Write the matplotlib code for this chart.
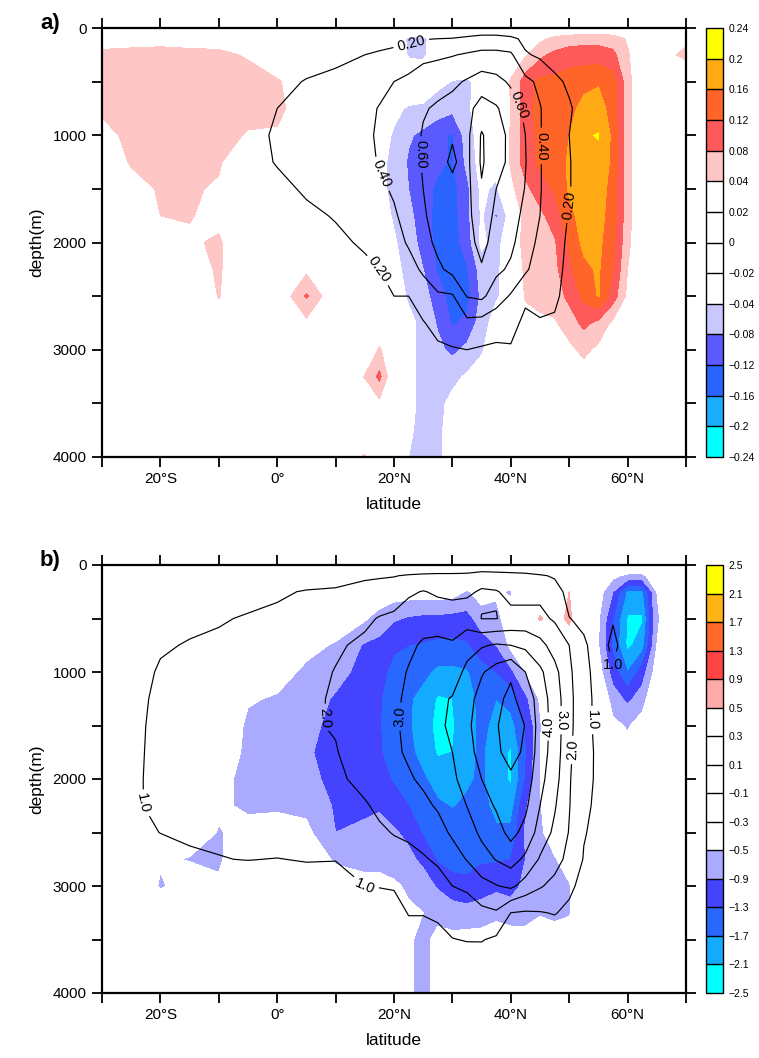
import numpy as np
import matplotlib.pyplot as plt

plt.rcParams['font.family'] = ['Liberation Sans', 'DejaVu Sans']

lat = [-30, -25, -20, -15, -10, -5, 0, 5, 10, 15, 17.5, 20, 22.5, 25, 27.5, 30,
       32.5, 35, 37.5, 40, 42.5, 45, 47.5, 50, 52.5, 55, 57.5, 60, 62.5, 65, 70]
depth = [0, 100, 250, 500, 750, 1000, 1250, 1500, 1750, 2000, 2250, 2500, 2750,
         3000, 3250, 3500, 3750, 4000]

# a) shaded anomaly, one row per depth
diff_a = [
    [0] * 31,
    [.02, .02, .025, .025, .02, .01, 0, 0, 0, 0, 0, 0, -.05, -.055, 0, 0, 0, 0, 0, 0, 0, .03, .05, .06, .065, .065, .06, .035, 0, .02, .03],
    [.05, .055, .055, .05, .05, .035, 0, 0, 0, 0, 0, 0, -.045, -.05, 0, 0, 0, 0, 0, 0, .035, .07, .09, .1, .1, .1, .09, .045, 0, .02, .05],
    [.06, .065, .065, .065, .06, .06, .045, .01, 0, 0, 0, 0, 0, 0, -.03, -.042, -.045, -.03, 0, .045, .1, .13, .13, .14, .15, .155, .14, .055, 0, .03, 0],
    [.05, .065, .065, .065, .065, .06, .05, .015, 0, 0, 0, -.03, -.045, -.05, -.06, -.07, -.05, -.01, -.02, .04, .1, .14, .14, .15, .17, .18, .14, .055, 0, 0, 0],
    [.02, .055, .06, .06, .06, .035, .035, 0, 0, 0, -.02, -.045, -.075, -.09, -.11, -.125, -.06, -.02, -.02, .045, .1, .13, .14, .16, .196, .202, .15, .055, 0, 0, 0],
    [0, .045, .055, .055, .045, 0, 0, 0, 0, 0, -.03, -.05, -.085, -.095, -.11, -.125, -.07, -.02, -.02, .045, .1, .13, .14, .165, .19, .19, .15, .055, 0, 0, 0],
    [0, .02, .045, .045, .035, 0, 0, 0, 0, 0, -.03, -.05, -.08, -.1, -.13, -.135, -.09, -.03, -.05, .03, .07, .1, .125, .165, .185, .185, .14, .055, 0, 0, 0],
    [0, 0, .04, .042, .03, 0, 0, 0, 0, 0, -.02, -.045, -.07, -.1, -.135, -.14, -.09, -.035, -.085, -.02, .06, .07, .1, .15, .175, .175, .14, .055, 0, 0, 0],
    [0, 0, .02, .035, .045, 0, 0, 0, 0, 0, -.01, -.035, -.06, -.095, -.135, -.14, -.1, -.03, -.06, 0, .06, .065, .075, .13, .17, .17, .13, .05, 0, 0, 0],
    [0, 0, 0, .02, .045, 0, 0, .03, 0, 0, 0, -.03, -.05, -.08, -.125, -.14, -.125, -.06, -.05, -.01, .05, .06, .07, .11, .15, .165, .12, .04, 0, 0, 0],
    [0, 0, 0, 0, .042, 0, 0, .085, 0, 0, 0, -.02, -.045, -.065, -.1, -.14, -.135, -.07, -.045, -.02, .045, .055, .06, .09, .13, .163, .1, .03, 0, 0, 0],
    [0, 0, 0, 0, .02, 0, 0, .03, 0, 0, 0, 0, -.03, -.05, -.085, -.125, -.11, -.06, -.02, 0, .02, .03, .035, .06, .09, .07, .03, 0, 0, 0, 0],
    [0, 0, 0, 0, 0, 0, 0, 0, 0, 0, .045, 0, -.03, -.05, -.07, -.09, -.07, -.045, -.01, 0, 0, 0, 0, .03, .05, .03, 0, 0, 0, 0, 0],
    [0, 0, 0, 0, 0, 0, 0, 0, 0, .042, .09, 0, -.03, -.05, -.055, -.05, -.035, -.02, 0, 0, 0, 0, 0, 0, .02, 0, 0, 0, 0, 0, 0],
    [0, 0, 0, 0, 0, 0, 0, 0, 0, 0, .03, 0, -.03, -.05, -.05, -.03, 0, 0, 0, 0, 0, 0, 0, 0, 0, 0, 0, 0, 0, 0, 0],
    [0, 0, 0, 0, 0, 0, 0, 0, 0, 0, 0, 0, -.035, -.05, -.05, -.02, 0, 0, 0, 0, 0, 0, 0, 0, 0, 0, 0, 0, 0, 0, 0],
    [0, 0, 0, 0, 0, 0, 0, 0, 0, .045, 0, 0, -.04, -.05, -.05, -.02, 0, 0, 0, 0, 0, 0, 0, 0, 0, 0, 0, 0, 0, 0, 0],
]

# a) overturning contours, one profile (0..4000 m) per latitude
moc_a_cols = [
    [0, .01, .01, .02, .03, .03, .03, .03, .02, .02, .01, .01, 0, 0, 0, 0, 0, 0],
    [0, .01, .01, .03, .04, .05, .05, .04, .03, .02, .01, .01, 0, 0, 0, 0, 0, 0],
    [0, .01, .02, .04, .05, .06, .06, .05, .04, .03, .02, .01, 0, 0, 0, 0, 0, 0],
    [0, .01, .02, .05, .06, .07, .07, .06, .05, .03, .02, .01, 0, 0, 0, 0, 0, 0],
    [0, .01, .03, .06, .08, .09, .09, .07, .05, .03, .02, .01, 0, 0, 0, 0, 0, 0],
    [0, .02, .05, .1, .13, .15, .14, .11, .08, .05, .03, .02, .01, 0, 0, 0, 0, 0],
    [0, .03, .08, .15, .2, .22, .21, .16, .12, .08, .05, .03, .02, .01, 0, 0, 0, 0],
    [0, .05, .12, .21, .24, .26, .25, .22, .17, .12, .08, .05, .03, .02, .01, 0, 0, 0],
    [0, .07, .16, .24, .28, .3, .3, .27, .21, .17, .12, .07, .04, .02, .01, 0, 0, 0],
    [0, .1, .2, .3, .35, .37, .36, .32, .27, .22, .17, .1, .06, .03, .01, 0, 0, 0],
    [0, .11, .23, .34, .41, .42, .41, .37, .32, .27, .2, .13, .08, .04, .02, 0, 0, 0],
    [0, .13, .26, .4, .43, .44, .44, .42, .38, .33, .28, .2, .12, .06, .03, .01, 0, 0],
    [0, .15, .3, .44, .47, .49, .5, .48, .46, .42, .33, .2, .14, .08, .04, .02, 0, 0],
    [0, .19, .36, .48, .58, .62, .62, .6, .57, .52, .43, .3, .19, .1, .05, .02, 0, 0],
    [0, .2, .37, .52, .63, .72, .76, .73, .7, .65, .56, .37, .26, .17, .08, .03, .01, 0],
    [0, .21, .39, .56, .67, .79, .82, .77, .74, .7, .66, .38, .28, .19, .1, .04, .01, 0],
    [0, .25, .42, .62, .74, .75, .75, .74, .74, .73, .7, .61, .35, .2, .1, .05, .02, 0],
    [0, .3, .44, .7, .88, 1.02, 1.03, .98, .93, .86, .78, .64, .33, .18, .1, .05, .02, 0],
    [0, .3, .44, .66, .82, .87, .85, .8, .75, .72, .64, .5, .28, .17, .09, .04, .01, 0],
    [0, .25, .43, .57, .7, .76, .77, .74, .68, .64, .57, .38, .27, .18, .1, .04, .01, 0],
    [0, .15, .22, .45, .56, .6, .61, .59, .55, .5, .43, .24, .15, .1, .05, .02, 0, 0],
    [0, .1, .17, .36, .41, .41, .41, .41, .4, .35, .3, .24, .19, .1, .05, .02, 0, 0],
    [0, .06, .12, .24, .29, .3, .3, .3, .28, .27, .25, .23, .18, .1, .05, .02, 0, 0],
    [0, .03, .07, .17, .22, .2, .21, .21, .19, .17, .16, .14, .1, .06, .03, .01, 0, 0],
    [0, .02, .04, .1, .13, .12, .12, .12, .11, .1, .09, .08, .06, .04, .02, .01, 0, 0],
    [0, .01, .02, .05, .06, .06, .06, .06, .05, .05, .05, .04, .03, .02, .01, 0, 0, 0],
    [0, .01, .01, .02, .02, .02, .02, .02, .02, .02, .02, .01, .01, 0, 0, 0, 0, 0],
    [0, 0, .01, .01, .01, .01, .01, .01, .01, .01, .01, 0, 0, 0, 0, 0, 0, 0],
    [0] * 18,
    [0] * 18,
    [0] * 18,
]

# b) shaded anomaly, one row per depth
diff_b = [
    [0] * 31,
    [0, 0, 0, 0, 0, 0, 0, 0, 0, 0, 0, 0, 0, 0, 0, 0, -.1, 0, -.1, -.1, 0, 0, 0, .1, 0, 0, -.4, -.6, -.6, -.2, 0],
    [0, 0, 0, 0, 0, 0, 0, 0, 0, -.05, -.15, -.28, -.3, -.3, -.3, -.32, -.55, -.3, -.45, -.55, 0, .1, .2, .5, 0, -.3, -.9, -1.8, -1.8, -.5, 0],
    [0, 0, 0, 0, 0, 0, 0, 0, -.2, -.45, -.7, -.85, -.95, -1, -1, -1.05, -1.05, -.7, -.6, -.3, 0, .55, .3, .6, 0, -.45, -1.3, -2.15, -2.15, -.55, 0],
    [0, 0, 0, 0, 0, 0, 0, -.35, -.55, -.95, -1, -1.25, -1.3, -1.35, -1.4, -1.4, -1.35, -1.1, -.9, -.4, -.1, 0, .1, .2, 0, -.48, -1.4, -2.2, -1.9, -.5, 0],
    [0, 0, 0, 0, 0, 0, -.3, -.6, -.75, -1.05, -1.2, -1.4, -1.5, -1.6, -1.8, -1.8, -1.75, -1.45, -1.3, -1, -.5, -.2, 0, 0, 0, -.3, -1.1, -1.7, -1.1, -.3, 0],
    [0, 0, 0, 0, 0, -.45, -.55, -.7, -.95, -1.15, -1.27, -1.5, -1.65, -1.85, -2.15, -2.1, -1.85, -1.6, -1.7, -1.55, -1, -.45, 0, 0, 0, 0, -.7, -1, -.7, 0, 0],
    [0, 0, 0, 0, 0, -.6, -.65, -.75, -1.05, -1.2, -1.28, -1.5, -1.65, -1.95, -2.2, -2.15, -1.85, -1.62, -1.8, -1.85, -1.3, -.55, 0, 0, 0, 0, -.4, -.55, -.3, 0, 0],
    [0, 0, 0, 0, -.2, -.6, -.7, -.85, -1.05, -1.2, -1.27, -1.45, -1.6, -1.85, -2.15, -2.1, -1.8, -1.65, -1.95, -2.15, -1.35, -.5, 0, 0, 0, 0, -.2, -.3, 0, 0, 0],
    [0, 0, 0, 0, -.4, -.6, -.65, -.8, -1, -1.1, -1.15, -1.35, -1.45, -1.65, -1.85, -1.9, -1.75, -1.65, -1.95, -2.15, -1.3, -.5, 0, 0, 0, 0, 0, 0, 0, 0, 0],
    [0, 0, 0, 0, -.45, -.55, -.55, -.6, -.95, -.95, -.95, -1.1, -1.3, -1.5, -1.65, -1.72, -1.65, -1.6, -1.8, -1.9, -.95, -.55, 0, 0, 0, 0, 0, 0, 0, 0, 0],
    [0, 0, 0, -.3, -.52, -.4, -.35, -.4, -.9, -.85, -.75, -.85, -1, -1.35, -1.5, -1.55, -1.55, -1.5, -1.65, -1.6, -.85, -.6, -.2, 0, 0, 0, 0, 0, 0, 0, 0],
    [0, 0, -.45, -.52, -.55, -.2, -.2, -.25, -.55, -.6, -.6, -.65, -.8, -1, -1.35, -1.45, -1.45, -1.35, -1.35, -1.3, -.9, -.7, -.55, -.2, 0, 0, 0, 0, 0, 0, 0],
    [0, 0, -.55, -.3, -.45, 0, 0, 0, -.3, -.4, -.4, -.45, -.55, -.7, -.95, -1.15, -1.2, -1.1, -1, -1.05, -.8, -.7, -.65, -.55, 0, 0, 0, 0, 0, 0, 0],
    [0, 0, -.1, 0, -.1, 0, 0, 0, 0, 0, 0, 0, -.45, -.5, -.6, -.7, -.75, -.7, -.6, -.7, -.6, -.55, -.6, -.55, 0, 0, 0, 0, 0, 0, 0],
    [0, 0, 0, 0, 0, 0, 0, 0, 0, 0, 0, 0, -.45, -.6, -.4, -.4, -.35, -.35, -.3, -.3, -.4, -.2, -.3, -.2, 0, 0, 0, 0, 0, 0, 0],
    [0, 0, 0, 0, 0, 0, 0, 0, 0, 0, 0, 0, -.45, -.6, -.4, -.2, -.1, -.1, 0, 0, 0, 0, 0, 0, 0, 0, 0, 0, 0, 0, 0],
    [0, 0, 0, 0, 0, 0, 0, 0, 0, 0, 0, 0, -.45, -.6, -.4, -.1, 0, 0, 0, 0, 0, 0, 0, 0, 0, 0, 0, 0, 0, 0, 0],
]

# b) overturning contours, one profile (0..4000 m) per latitude
moc_b_cols = [
    [0, .2, .3, .4, .5, .5, .6, .6, .6, .6, .5, .4, .3, .2, .1, .05, 0, 0],
    [0, .3, .5, .65, .75, .8, .85, .88, .9, .93, .95, .8, .5, .3, .15, .05, 0, 0],
    [0, .35, .6, .8, .95, 1.05, 1.1, 1.12, 1.12, 1.1, 1.07, 1.01, .7, .4, .2, .08, .02, 0],
    [0, .4, .7, .9, 1.03, 1.15, 1.2, 1.25, 1.25, 1.22, 1.15, 1.05, .95, .5, .25, .1, .03, 0],
    [0, .4, .75, .95, 1.1, 1.25, 1.3, 1.35, 1.35, 1.3, 1.22, 1.1, .98, .5, .3, .1, .03, 0],
    [0, .45, .8, 1.05, 1.25, 1.4, 1.5, 1.55, 1.55, 1.5, 1.4, 1.25, 1.02, .55, .3, .1, .03, 0],
    [0, .5, .9, 1.15, 1.35, 1.55, 1.7, 1.75, 1.75, 1.7, 1.6, 1.4, .98, .6, .3, .1, .03, 0],
    [0, .6, 1.05, 1.3, 1.55, 1.75, 1.85, 1.9, 1.9, 1.85, 1.75, 1.5, 1.05, .6, .3, .1, .03, 0],
    [0, .7, 1.1, 1.6, 1.9, 2.03, 2.08, 2.06, 1.95, 1.8, 1.6, 1.3, 1.03, .6, .3, .1, .03, 0],
    [0, .85, 1.35, 1.85, 2.15, 2.4, 2.55, 2.6, 2.5, 2.3, 1.9, 1.6, 1.3, 1.0, .6, .3, .1, 0],
    [0, .9, 1.45, 2.05, 2.4, 2.65, 2.8, 2.85, 2.75, 2.5, 2.2, 1.85, 1.45, 1.03, .6, .3, .1, 0],
    [0, .95, 1.6, 2.15, 2.5, 2.75, 2.85, 2.88, 2.85, 2.7, 2.4, 2.05, 1.6, 1.08, .6, .3, .1, 0],
    [0, 1.1, 1.85, 2.5, 2.85, 3.05, 3.15, 3.2, 3.12, 2.9, 2.6, 2.15, 1.75, 1.35, 1.05, .6, .25, 0],
    [0, 1.2, 2.05, 2.7, 3.1, 3.35, 3.5, 3.55, 3.4, 3.15, 2.8, 2.4, 1.9, 1.5, 1.05, .6, .25, 0],
    [0, 1.25, 1.85, 2.6, 3.2, 3.6, 3.85, 3.9, 3.75, 3.45, 3.1, 2.65, 2.15, 1.6, 1.15, .75, .3, 0],
    [0, 1.25, 1.75, 2.55, 3.1, 3.6, 4.05, 4.1, 4.0, 3.8, 3.45, 3.15, 2.55, 2.0, 1.5, .97, .4, 0],
    [0, 1.3, 1.85, 2.5, 3.7, 4.2, 4.6, 4.8, 4.7, 4.45, 4.02, 3.55, 3.05, 2.15, 1.55, 1.05, .45, 0],
    [0, 1.6, 2.1, 1.98, 3.9, 4.9, 5.4, 5.5, 5.3, 5.0, 4.6, 4.2, 3.6, 2.7, 1.75, 1.05, .5, 0],
    [0, 1.5, 2.05, 1.98, 4.1, 5.4, 5.85, 5.95, 5.9, 5.6, 5.1, 4.6, 4.05, 2.95, 1.9, .85, .4, 0],
    [0, 1.4, 1.8, 2.2, 4.0, 5.9, 6.15, 6.3, 6.2, 5.9, 5.5, 5.3, 4.4, 3.2, 1.0, .5, .2, 0],
    [0, 1.3, 1.7, 2.3, 3.8, 5.0, 5.7, 5.98, 5.9, 5.6, 5.2, 4.7, 3.8, 2.6, .9, .4, .15, 0],
    [0, 1.1, 1.8, 2.2, 3.3, 4.2, 4.5, 4.6, 4.5, 4.3, 4.0, 3.6, 2.9, 2.1, .95, .4, .1, 0],
    [0, .9, 1.4, 1.9, 2.6, 3.3, 3.55, 3.6, 3.55, 3.4, 3.1, 2.8, 2.4, 1.7, 1.05, .45, .1, 0],
    [0, .6, .7, 1.02, 2.0, 2.2, 2.3, 2.3, 2.2, 2.1, 2.05, 1.95, 1.7, 1.2, .8, .35, .1, 0],
    [0, .4, .6, .85, 1.1, 1.2, 1.25, 1.2, 1.2, 1.15, 1.1, 1.05, .95, .7, .4, .2, .05, 0],
    [0, .25, .4, .6, .7, .75, .8, .85, .9, .92, .9, .8, .6, .4, .2, .1, .03, 0],
    [0, .3, .6, .95, 1.15, .95, .8, .6, .5, .4, .3, .2, .1, .05, .02, 0, 0, 0],
    [0, .2, .4, .6, .7, .6, .5, .4, .3, .2, .15, .1, .05, 0, 0, 0, 0, 0],
    [0, .1, .2, .3, .3, .3, .25, .2, .15, .1, .05, 0, 0, 0, 0, 0, 0, 0],
    [0, .05, .1, .15, .15, .15, .1, .1, .05, 0, 0, 0, 0, 0, 0, 0, 0, 0],
    [0] * 18,
]

levels_a = [-0.24, -0.2, -0.16, -0.12, -0.08, -0.04, -0.02, 0, 0.02, 0.04, 0.08, 0.12, 0.16, 0.2, 0.24]
colors_a = ['#00ffff', '#1aaeff', '#2a64ff', '#5a5aff', '#c8c8ff', 'white', 'white', 'white', 'white',
            '#ffc6c6', '#ff5a5a', '#ff6428', '#ffaa14', '#ffff00']
lines_a = [0.2, 0.4, 0.6, 0.8, 1.0]

levels_b = [-2.5, -2.1, -1.7, -1.3, -0.9, -0.5, -0.3, -0.1, 0.1, 0.3, 0.5, 0.9, 1.3, 1.7, 2.1, 2.5]
colors_b = ['#00ffff', '#14aaff', '#2868ff', '#4444ff', '#aaaaff', 'white', 'white', 'white', 'white', 'white',
            '#ffaaaa', '#ff4444', '#ff6a28', '#ffb414', '#ffff00']
lines_b = [1, 2, 3, 4, 5, 6]

lat_ticks = [-30, -20, -10, 0, 10, 20, 30, 40, 50, 60, 70]
lat_labels = ['', '20°S', '', '0°', '', '20°N', '', '40°N', '', '60°N', '']
depth_ticks = [0, 500, 1000, 1500, 2000, 2500, 3000, 3500, 4000]
depth_labels = ['0', '', '1000', '', '2000', '', '3000', '', '4000']

# where the contour labels sit (lat, depth)
label_spots_a = [(23, 150), (17.5, 2250), (50.1, 1650), (17.5, 1370), (45, 1100), (24.8, 1180), (41, 730)]
label_spots_b = [(-22.6, 2230), (13.9, 3100), (53.3, 1450), (57.6, 950), (9, 1430), (51, 1730),
                 (21.6, 1420), (48.7, 1450), (46.7, 1510)]

W, H = 759, 1058
fig = plt.figure(figsize=(W / 100, H / 100), dpi=100)


def box(x0, y0, x1, y1):
    return [x0 / W, 1 - y1 / H, (x1 - x0) / W, (y1 - y0) / H]


def panel(ax, cax, shade, lines, levels, colors, line_levels, fmt, spots, tag):
    X, Y = np.meshgrid(lat, depth)
    cf = ax.contourf(X, Y, np.array(shade), levels=levels, colors=colors)
    cs = ax.contour(X, Y, np.array(lines).T, levels=line_levels, colors='black', linewidths=0.85)
    ax.set_xlim(-30, 70)
    ax.set_ylim(4000, 0)
    ax.clabel(cs, manual=spots, inline=True, inline_spacing=4, fmt=fmt, fontsize=10.5)

    ax.set_xticks(lat_ticks)
    ax.set_xticklabels(lat_labels)
    ax.set_yticks(depth_ticks)
    ax.set_yticklabels(depth_labels)
    ax.tick_params(direction='out', length=7, width=1.3, top=True, right=True,
                   labelsize=11, pad=4)
    for s in ax.spines.values():
        s.set_linewidth(1.6)
    ax.set_xlabel('latitude', fontsize=12.5, labelpad=8)
    ax.set_ylabel('depth(m)', fontsize=12.5, labelpad=6)

    cb = fig.colorbar(cf, cax=cax, ticks=levels, drawedges=True)
    cb.ax.set_yticklabels([f'{v:g}'.replace('-', '\u2212') for v in levels])
    cb.ax.tick_params(length=0, labelsize=7.5, pad=4)
    cb.outline.set_linewidth(1.0)
    cb.dividers.set_linewidth(1.0)

    pos = ax.get_position()
    fig.text(40 / W, pos.y1 + 0.004, tag, fontsize=16, fontweight='bold', va='center', ha='left')


ax_a = fig.add_axes(box(102, 28, 686, 457))
cax_a = fig.add_axes(box(706, 28, 723, 457))
panel(ax_a, cax_a, diff_a, moc_a_cols, levels_a, colors_a, lines_a, '%.2f', label_spots_a, 'a)')

ax_b = fig.add_axes(box(102, 565, 686, 993))
cax_b = fig.add_axes(box(706, 565, 723, 993))
panel(ax_b, cax_b, diff_b, moc_b_cols, levels_b, colors_b, lines_b, '%.1f', label_spots_b, 'b)')

fig.savefig('out.png', dpi=100)
